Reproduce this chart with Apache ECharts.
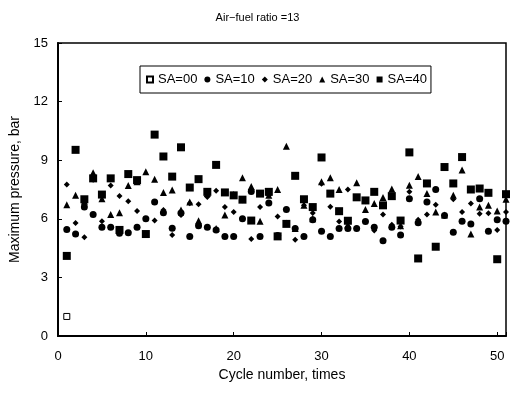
<!DOCTYPE html>
<html>
<head>
<meta charset="utf-8">
<script src="https://cdn.jsdelivr.net/npm/echarts@6/dist/echarts.min.js"></script>
<style>
  html, body { margin: 0; padding: 0; background: #fff; }
  #chart { width: 515px; height: 393px; }
</style>
</head>
<body>
<div id="chart"></div>
<script>
// cycle numbers 1..51
var cycles = [];
for (var i = 1; i <= 51; i++) cycles.push(i);

// one value per cycle
var sa00 = [1.0];
var sa10 = [5.45, 5.22, 6.6, 6.22, 5.57, 5.57, 5.26, 5.28, 5.57, 6.0,
            6.86, 6.31, 5.52, 6.3, 5.09, 5.65, 5.57, 5.43, 5.09, 5.09,
            6.0, 7.4, 5.09, 6.81, 5.15, 6.47, 5.5, 5.09, 5.95, 5.36,
            5.09, 5.5, 5.5, 5.5, 5.86, 5.57, 4.88, 5.57, 5.17, 7.03,
            5.8, 6.86, 7.5, 6.17, 5.31, 5.88, 5.74, 7.03, 5.36, 5.95, 5.88];
var sa20 = [7.76, 5.79, 5.05, 8.0, 5.88, 7.7, 7.17, 6.9, 6.4, 6.0,
            5.91, 6.45, 5.17, 6.2, 6.8, 6.74, 7.12, 7.43, 6.6, 6.35,
            6.95, 4.97, 6.6, 7.2, 6.12, 5.8, 4.93, 6.7, 6.3, 7.8,
            6.62, 5.86, 7.5, 5.5, 6.9, 5.4, 6.22, 5.7, 5.6, 7.38,
            5.95, 6.22, 6.72, 6.17, 7.0, 6.35, 6.78, 6.26, 6.28, 5.43, 6.35];
var sa30 = [6.72, 7.2, 6.9, 8.36, 7.03, 6.22, 6.31, 7.7, 7.9, 8.41,
            8.03, 7.35, 7.47, 6.45, 6.86, 5.9, 7.3, 5.5, 6.2, 7.25,
            8.1, 7.65, 5.88, 7.2, 7.5, 9.71, 5.5, 6.7, 6.0, 7.9,
            8.1, 7.5, 5.7, 7.84, 6.47, 6.78, 7.09, 7.52, 5.65, 7.72,
            8.16, 7.29, 6.35, 6.2, 7.2, 8.5, 5.22, 6.6, 6.69, 6.4, 7.0];
var sa40 = [4.1, 9.53, 7.0, 8.07, 7.24, 8.07, 5.43, 8.29, 7.98, 5.22,
            10.31, 9.19, 8.16, 9.66, 7.6, 8.03, 7.38, 8.76, 7.35, 7.2,
            6.98, 5.91, 7.29, 7.38, 5.1, 5.74, 8.2, 7.0, 6.6, 9.14,
            7.29, 6.39, 5.9, 7.1, 6.94, 7.38, 6.69, 7.16, 5.91, 9.4,
            3.97, 7.81, 4.57, 8.65, 7.81, 9.16, 7.5, 7.55, 7.33, 3.93, 7.26];

var seriesNames = ['SA=00', 'SA=10', 'SA=20', 'SA=30', 'SA=40'];
var seriesData = [sa00, sa10, sa20, sa30, sa40];
var symbols = ['rect', 'circle', 'diamond', 'triangle', 'rect'];
var symbolSizes = [6, 7, 6, 7, 8];

function pairs(arr) {
  var out = [];
  for (var k = 0; k < arr.length; k++) out.push([cycles[k], arr[k]]);
  return out;
}

var font = 'Liberation Sans, Arial, sans-serif';

var series = seriesNames.map(function (name, idx) {
  return {
    name: name,
    type: 'scatter',
    symbol: symbols[idx],
    symbolSize: symbolSizes[idx],
    itemStyle: idx === 0
      ? { color: '#fff', borderColor: '#000', borderWidth: 1, opacity: 1 }
      : { color: '#000', opacity: 1 },
    data: pairs(seriesData[idx])
  };
});

var myChart = echarts.init(document.getElementById('chart'));
var option = {
  animation: false,
  backgroundColor: '#fff',
  title: {
    text: 'Air\u2212fuel ratio =13',
    left: 'center',
    top: 7,
    textStyle: { fontFamily: font, fontSize: 11, fontWeight: 'normal', color: '#000' }
  },
  legend: {
    data: seriesNames,
    left: 140,
    top: 66,
    itemWidth: 6,
    itemHeight: 6,
    itemGap: 7,
    padding: [7, 4, 7, 6],
    borderColor: '#000',
    borderWidth: 1,
    textStyle: { fontFamily: font, fontSize: 13, color: '#000' }
  },
  grid: {
    left: 58, right: 9, top: 43, bottom: 57,
    show: true, borderColor: '#000', borderWidth: 1.5
  },
  xAxis: {
    type: 'value',
    min: 0, max: 51, interval: 10,
    name: 'Cycle number, times',
    nameLocation: 'middle',
    nameGap: 32,
    nameTextStyle: { fontFamily: font, fontSize: 14, color: '#000' },
    axisLine: { show: true, lineStyle: { color: '#000', width: 2 } },
    axisTick: { show: true, inside: true, length: 4, lineStyle: { color: '#000' } },
    axisLabel: {
      fontFamily: font, fontSize: 13, color: '#000', margin: 14,
      formatter: function (v) { return v % 10 === 0 ? v : ''; }
    },
    splitLine: { show: false }
  },
  yAxis: {
    type: 'value',
    min: 0, max: 15, interval: 3,
    name: 'Maximum pressure, bar',
    nameLocation: 'middle',
    nameGap: 25,
    nameTextStyle: { fontFamily: font, fontSize: 14, color: '#000' },
    axisLine: { show: true, lineStyle: { color: '#000', width: 2 } },
    axisTick: { show: true, inside: true, length: 4, lineStyle: { color: '#000' } },
    axisLabel: { fontFamily: font, fontSize: 13, color: '#000', margin: 10 },
    splitLine: { show: false }
  },
  series: series
};
myChart.setOption(option, true);
</script>
</body>
</html>
